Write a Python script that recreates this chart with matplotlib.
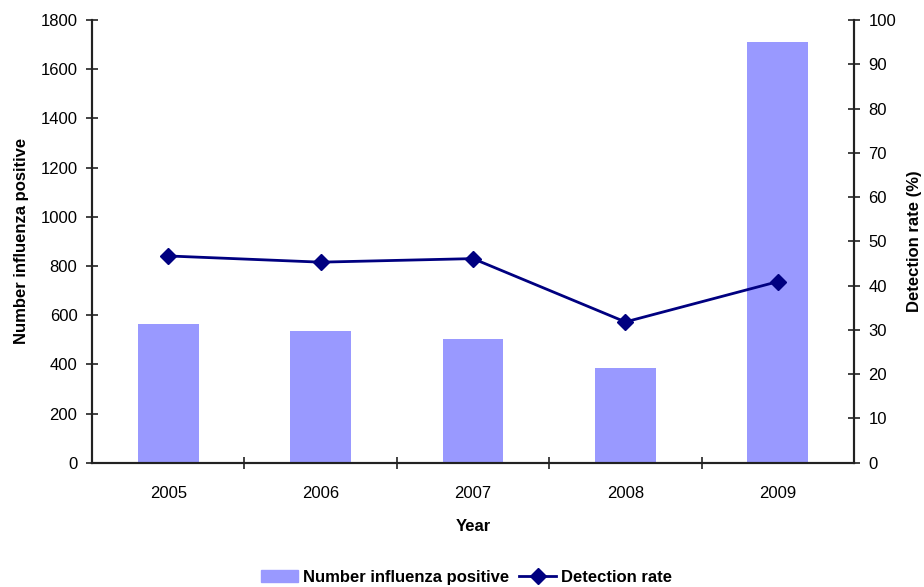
import matplotlib.pyplot as plt
import matplotlib.lines as mlines
import matplotlib.patches as mpatches
import numpy as np

plt.rcParams["font.family"] = ["Liberation Sans", "DejaVu Sans"]

# Influenza surveillance, 2005-2009
years = ["2005", "2006", "2007", "2008", "2009"]
positives = [564, 537, 504, 386, 1712]
detection_rate = [46.7, 45.3, 46.1, 31.8, 40.9]

BAR_COLOR = "#9999ff"
LINE_COLOR = "#000080"
AXIS_COLOR = "#222222"

fig = plt.figure(figsize=(9.24, 5.87), dpi=100)
ax = fig.add_axes([0.0996, 0.2117, 0.8246, 0.7543])
x = np.arange(len(years))

ax.bar(x, positives, width=0.4, color=BAR_COLOR, zorder=2)
ax.set_xlim(-0.5, len(years) - 0.5)
ax.set_ylim(0, 1800)
ax.set_yticks(np.arange(0, 1801, 200))

# category labels centred, tick marks between categories
ax.set_xticks(x)
ax.set_xticklabels(years)
ax.set_xticks(np.arange(0.5, len(years) - 1, 1.0), minor=True)
ax.tick_params(axis="x", which="major", length=0, pad=17)
ax.tick_params(axis="x", which="minor", direction="inout", length=9, width=1.2, color=AXIS_COLOR)
ax.tick_params(axis="y", direction="inout", length=9, width=1.2, color=AXIS_COLOR, pad=6)
ax.tick_params(labelsize=12, labelcolor="#000000")

ax.set_xlabel("Year", fontsize=12, fontweight="bold", labelpad=13)
ax.set_ylabel("Number influenza positive", fontsize=12, fontweight="bold", labelpad=8)

ax2 = ax.twinx()
ax2.plot(x, detection_rate, color=LINE_COLOR, lw=2, marker="D", markersize=8, zorder=3)
ax2.set_ylim(0, 100)
ax2.set_yticks(np.arange(0, 101, 10))
ax2.tick_params(axis="y", direction="inout", length=9, width=1.2, color=AXIS_COLOR,
                labelsize=12, labelcolor="#000000", pad=6)
ax2.set_ylabel("Detection rate (%)", fontsize=12, fontweight="bold", labelpad=8)

for a in (ax, ax2):
    a.spines["top"].set_visible(False)
    for side in ("left", "bottom", "right"):
        a.spines[side].set_color(AXIS_COLOR)
        a.spines[side].set_linewidth(1.5)

handles = [
    mpatches.Patch(color=BAR_COLOR, label="Number influenza positive"),
    mlines.Line2D([], [], color=LINE_COLOR, lw=2, marker="D", markersize=8, label="Detection rate"),
]
fig.legend(handles=handles, loc="center", bbox_to_anchor=(0.505, 0.017), ncol=2,
           frameon=False, handlelength=2.2, handletextpad=0.3, columnspacing=0.6,
           prop={"weight": "bold", "size": 12})

fig.savefig("out.png", dpi=100)
